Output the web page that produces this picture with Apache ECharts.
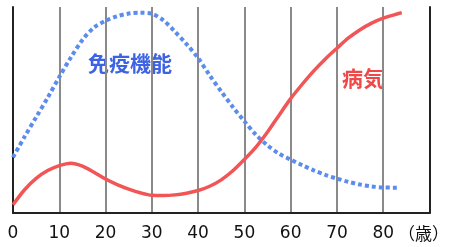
<!DOCTYPE html>
<html><head><meta charset="utf-8">
<script src="https://cdn.jsdelivr.net/npm/echarts@6/dist/echarts.min.js"></script>
<style>html,body{margin:0;padding:0;background:#fff}#c{width:452px;height:247px}</style>
</head><body><div id="c"></div>
<script>
const ageTicks = [0,10,20,30,40,50,60,70,80,90];
const unitLabel = '（歳）';
const diseaseAges = [0,2.5,5,7.5,10,12.5,15,17.5,20,22.5,25,27.5,30,32.5,35,37.5,40,42.5,45,47.5,50,52.5,55,57.5,60,62.5,65,67.5,70,72.5,75,77.5,80,82.5,84];
const diseaseVals = [4,11.3,16.8,20.6,23,24.2,22.8,19.8,16.5,13.8,11.6,9.8,8.6,8.5,8.8,9.6,10.9,13,16.1,20.5,26,32,39.3,47.5,55.5,62.5,69,74.8,80,85,89,92.2,94.6,96.3,97.3];
const immuneAges = [0,2.5,5,7.5,10,12.5,15,17.5,20,22.5,25,27.5,30,32.5,35,37.5,40,42.5,45,47.5,50,52.5,55,57.5,60,62.5,65,67.5,70,72.5,75,77.5,80,83];
const immuneVals = [27,37,46.5,56,66,75.5,84,90,93.3,95.5,96.8,97.2,96.7,93.5,88,82,75.2,66.8,59,51.5,44.5,38,32.8,28.8,25.9,23.2,20.7,18.5,16.7,15.1,13.8,12.9,12.4,12.3];
const labelImmune = '免疫機能';
const labelDisease = '病気';

const chart = echarts.init(document.getElementById('c'));
const zip = (a,b)=>a.map((x,i)=>[x,b[i]]);
chart.setOption({
  animation:false,
  grid:{left:13,right:20,top:7,bottom:34},
  xAxis:{type:'value',min:0,max:90,interval:10,
    axisLine:{show:true,onZero:false,lineStyle:{color:'#222',width:2}},
    axisTick:{show:false},
    splitLine:{show:true,lineStyle:{color:'#8a8a8a',width:2}},
    axisLabel:{color:'#111',fontSize:17,fontFamily:'DejaVu Sans',margin:12,
      formatter:v=> v===90 ? '{u|'+unitLabel+'}' : String(v),
      rich:{u:{fontSize:17,color:'#111',fontFamily:'Noto Sans CJK JP',padding:[0,12,0,0]}}}
  },
  yAxis:[{type:'value',min:0,max:100,axisLine:{show:true,lineStyle:{color:'#222',width:2}},
    axisTick:{show:false},axisLabel:{show:false},splitLine:{show:false}},
    {type:'value',min:0,max:100,position:'right',axisLine:{show:true,lineStyle:{color:'#222',width:2}},
    axisTick:{show:false},axisLabel:{show:false},splitLine:{show:false}}],
  series:[
    {type:'line',data:zip(immuneAges,immuneVals),smooth:0.3,showSymbol:false,
     lineStyle:{color:'#5b8cee',width:4,type:[4,3],cap:'butt'}},
    {type:'line',data:zip(diseaseAges,diseaseVals),smooth:0.3,showSymbol:false,
     lineStyle:{color:'#f25555',width:3.5}}
  ],
  graphic:[
    {type:'text',left:88,top:53,style:{text:labelImmune,font:'bold 21px "Noto Sans CJK JP"',fill:'#3d63e3'}},
    {type:'text',left:342,top:68,style:{text:labelDisease,font:'bold 21px "Noto Sans CJK JP"',fill:'#f04848'}}
  ]
});
</script></body></html>
